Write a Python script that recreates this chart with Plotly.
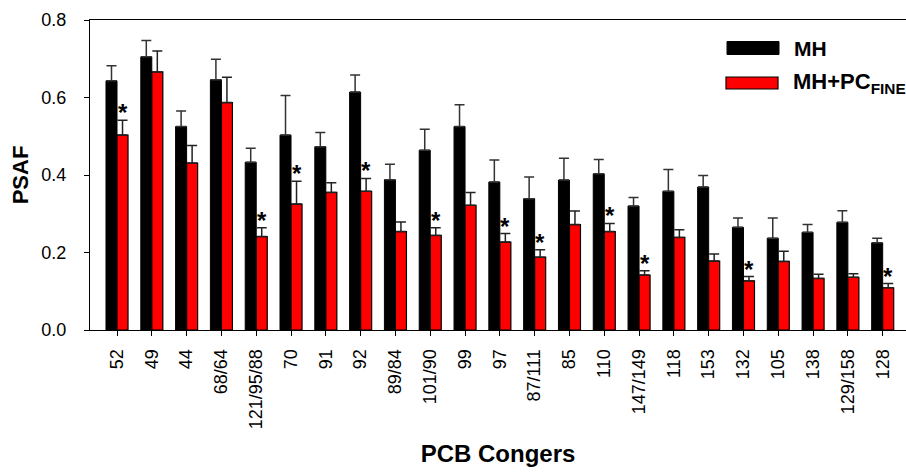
import plotly.graph_objects as go

congeners = ["52", "49", "44", "68/64", "121/95/88", "70", "91", "92", "89/84", "101/90",
             "99", "97", "87/111", "85", "110", "147/149", "118", "153", "132", "105",
             "138", "129/158", "128"]
mh = [0.643, 0.705, 0.525, 0.646, 0.433, 0.503, 0.473, 0.614, 0.388, 0.464,
      0.525, 0.382, 0.339, 0.387, 0.403, 0.320, 0.358, 0.369, 0.265, 0.237,
      0.252, 0.278, 0.225]
mh_err = [0.039, 0.042, 0.040, 0.053, 0.036, 0.102, 0.037, 0.044, 0.040, 0.054,
          0.056, 0.057, 0.056, 0.056, 0.037, 0.022, 0.056, 0.030, 0.024, 0.052,
          0.020, 0.030, 0.012]
pc = [0.503, 0.666, 0.431, 0.587, 0.241, 0.325, 0.355, 0.358, 0.254, 0.244,
      0.322, 0.227, 0.188, 0.272, 0.254, 0.142, 0.239, 0.178, 0.127, 0.177,
      0.133, 0.136, 0.109]
pc_err = [0.038, 0.054, 0.045, 0.065, 0.023, 0.059, 0.025, 0.033, 0.025, 0.020,
          0.033, 0.022, 0.019, 0.035, 0.021, 0.011, 0.020, 0.018, 0.011, 0.026,
          0.011, 0.009, 0.011]
significant = [True, False, False, False, True, True, False, True, False, True,
               False, True, True, False, True, True, False, False, True, False,
               False, False, True]
y_ticks = [0.0, 0.2, 0.4, 0.6, 0.8]

FONT = "Liberation Sans, Arial, sans-serif"

fig = go.Figure()
fig.add_trace(go.Bar(
    name="MH", x=congeners, y=mh,
    marker=dict(color="black", line=dict(color="black", width=1)),
    error_y=dict(type="data", array=mh_err, arrayminus=[0] * len(mh_err), symmetric=False,
                 color="#333333", thickness=1.5, width=5),
    showlegend=False,
))
fig.add_trace(go.Bar(
    name="MH+PC<sub>FINE</sub>", x=congeners, y=pc,
    marker=dict(color="#ff0000", line=dict(color="black", width=1.2)),
    error_y=dict(type="data", array=pc_err, arrayminus=[0] * len(pc_err), symmetric=False,
                 color="#222222", thickness=1.5, width=5),
    showlegend=False,
))

annotations = []
for i, (v, e, s) in enumerate(zip(pc, pc_err, significant)):
    if s:
        annotations.append(dict(
            x=i, y=v + e, xref="x", yref="y", text="<b>*</b>", showarrow=False,
            xshift=5.5, yshift=-8, yanchor="bottom",
            font=dict(family=FONT, size=24, color="black"),
        ))

W, H = 906, 472
ml, mr, mt, mb = 90, 0, 20, 142
pw, ph = W - ml - mr, H - mt - mb

def px(x):
    return (x - ml) / pw

def py(y):
    return 1 - (y - mt) / ph

# legend drawn manually to match the wide swatches
annotations += [
    dict(x=px(792), y=py(48), xref="paper", yref="paper", text="<b>MH</b>", showarrow=False,
         xanchor="left", yanchor="middle", font=dict(family=FONT, size=21, color="black")),
    dict(x=px(791), y=py(83), xref="paper", yref="paper", text="<b>MH+PC<sub>FINE</sub></b>",
         showarrow=False, xanchor="left", yanchor="middle",
         font=dict(family=FONT, size=22, color="black")),
]

shapes = [
    dict(type="rect", xref="paper", yref="paper", x0=px(727), x1=px(779), y0=py(54.5), y1=py(41.5),
         fillcolor="black", line=dict(color="black", width=1)),
    dict(type="rect", xref="paper", yref="paper", x0=px(726), x1=px(778), y0=py(89), y1=py(77),
         fillcolor="#ff0000", line=dict(color="black", width=1.2)),
]

fig.update_layout(
    width=W, height=H,
    margin=dict(l=ml, r=mr, t=mt, b=mb, autoexpand=False),
    plot_bgcolor="white", paper_bgcolor="white",
    barmode="group", bargap=0.367, bargroupgap=0,
    font=dict(family=FONT, color="black"),
    annotations=annotations,
    shapes=shapes,
    xaxis=dict(
        type="category", range=[-0.776, 22.67],
        showline=True, linecolor="black", linewidth=1, mirror=True,
        ticks="outside", ticklen=5, tickcolor="black", tickangle=-90,
        tickfont=dict(family=FONT, size=18, color="black"),
        ticklabelstandoff=6,
        showgrid=False, zeroline=False, automargin=False,
        title=dict(text="<b>PCB Congers</b>", font=dict(family=FONT, size=24, color="black"),
                   standoff=16),
    ),
    yaxis=dict(
        range=[0, 0.8], tickvals=y_ticks, tickformat=".1f",
        showline=True, linecolor="black", linewidth=1,
        ticks="outside", ticklen=5, tickcolor="black",
        tickfont=dict(family=FONT, size=18, color="black"),
        ticklabelstandoff=14,
        showgrid=False, zeroline=False, automargin=False,
        title=dict(text="<b>PSAF</b>", font=dict(family=FONT, size=22, color="black"),
                   standoff=6),
    ),
)

fig.write_html("out.html", config={"displayModeBar": False},
               post_script="document.body.style.margin='0';document.body.style.overflow='hidden';")
